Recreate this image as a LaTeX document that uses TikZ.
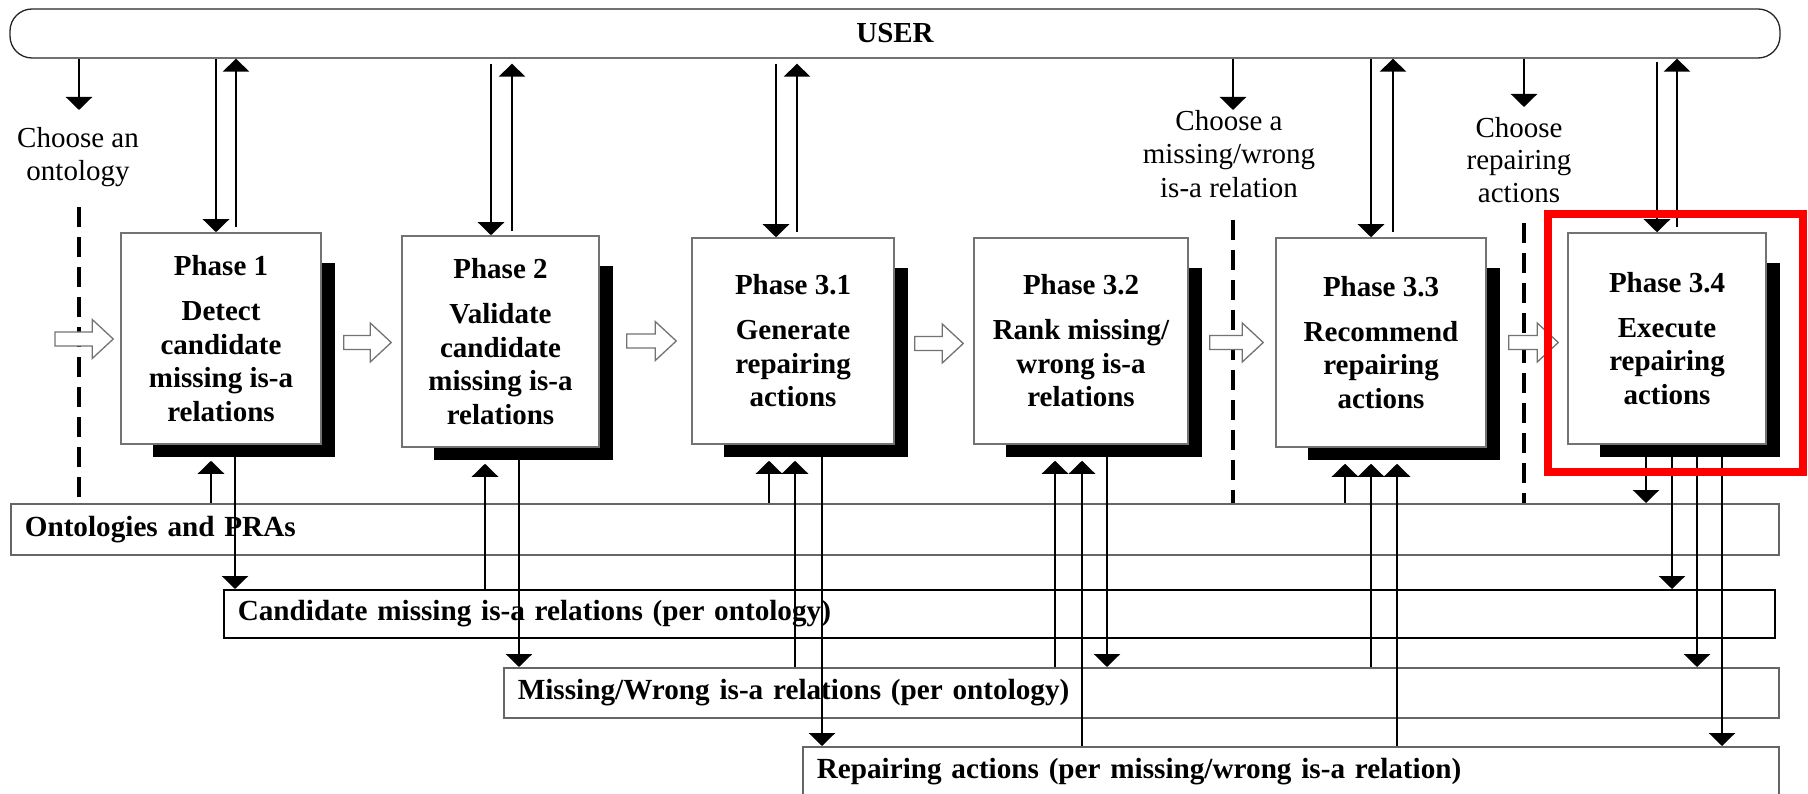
\documentclass[tikz,border=0pt]{standalone}
\usepackage{fontspec}
\setmainfont{Liberation Serif}
\usetikzlibrary{arrows.meta,calc,backgrounds}

% hollow block arrow: #1 tail point (sets the height), #2 tip point
\newcommand\blockarrow[2]{%
  \draw[hollow] let \p1=#1, \p2=#2 in
    (\x1,\y1+7pt) -- (\x2-21pt,\y1+7pt) -- (\x2-21pt,\y1+19.5pt) -- (\x2,\y1)
    -- (\x2-21pt,\y1-19.5pt) -- (\x2-21pt,\y1-7pt) -- (\x1,\y1-7pt) -- cycle;}

\begin{document}
\begin{tikzpicture}[x=1pt,y=-1pt,
  arr/.style={line width=2.6pt,-{Triangle[width=26pt,length=13pt]}},
  userbar/.style={draw=black!85,line width=1.3pt,fill=white,rounded corners=22pt,
    minimum width=1770pt,minimum height=49pt,inner sep=0pt,
    font=\fontsize{29}{33}\selectfont\bfseries},
  phase/.style={draw=black!55,line width=1.5pt,fill=white,inner sep=0pt,align=center,
    font=\fontsize{29}{33.5}\selectfont\bfseries},
  store/.style={draw=black!60,line width=1.6pt,fill=white,inner xsep=14pt,inner ysep=0pt,
    anchor=north west,align=left,font=\fontsize{29.2}{34}\selectfont\bfseries},
  choice/.style={inner sep=0pt,align=center,font=\fontsize{29}{33}\selectfont},
  sep/.style={line width=4pt,dash pattern=on 20pt off 10pt},
  hollow/.style={draw=black!55,line width=1.3pt,fill=white},
  focus/.style={draw=red,line width=8pt}
]
\useasboundingbox (0,0) rectangle (1808,794);
\clip (0,0) rectangle (1808,794);

% the user
\node[userbar] (user) at (895,33.5) {USER};

% phases
\node[phase,minimum width=200pt,minimum height=211pt] (p1) at (221,338.5)
  {Phase 1\\[11.5pt]Detect\\candidate\\missing is-a\\relations};
\node[phase,minimum width=197pt,minimum height=211pt] (p2) at (500.5,341.5)
  {Phase 2\\[11.5pt]Validate\\candidate\\missing is-a\\relations};
\node[phase,minimum width=202pt,minimum height=206pt] (p3) at (793,341)
  {Phase 3.1\\[11.5pt]Generate\\repairing\\actions};
\node[phase,minimum width=214pt,minimum height=206pt] (p4) at (1081,341)
  {Phase 3.2\\[11.5pt]Rank missing/\\wrong is-a\\relations};
\node[phase,minimum width=210pt,minimum height=209pt] (p5) at (1381,342.5)
  {Phase 3.3\\[11.5pt]Recommend\\repairing\\actions};
\node[phase,minimum width=198pt,minimum height=211pt] (p6) at (1667,338.5)
  {Phase 3.4\\[11.5pt]Execute\\repairing\\actions};

% drop shadows behind the phases, and the bottom edge of each shadow
\begin{scope}[on background layer]
  \foreach \n in {p1,p2,p3,p4,p5,p6}
    \fill ($(\n.north west)+(33,31)$) rectangle ($(\n.south east)+(13,12)$);
\end{scope}
\foreach \n in {p1,p2,p3,p4,p5,p6}
  \coordinate (\n bot) at ($(\n.south)+(0,12)$);

% data stores
\node[store,text width=1740pt,minimum height=51pt] (ont) at (10,503)
  {Ontologies and PRAs};
\node[store,draw=black,text width=1523pt,minimum height=48pt] (cand) at (223,589)
  {Candidate missing is-a relations (per ontology)};
\node[store,text width=1247pt,minimum height=50pt] (mw) at (503,667)
  {Missing/Wrong is-a relations (per ontology)};
\node[store,text width=948pt,minimum height=50pt] (rep) at (802,746)
  {Repairing actions (per missing/wrong is-a relation)};

% user choices
\node[choice] (ch1) at (78,157) {Choose an\\ontology};
\node[choice,font=\fontsize{29}{33.5}\selectfont] (ch2) at (1229,154)
  {Choose a\\missing/wrong\\is-a relation};
\node[choice,font=\fontsize{29}{32.5}\selectfont] (ch3) at (1519,160)
  {Choose\\repairing\\actions};
\coordinate (k1) at (79,110);
\coordinate (k2) at (1233,110);
\coordinate (k3) at (1524,107);
\draw[arr] (k1 |- user.south) -- (k1);
\draw[arr] (k2 |- user.south) -- (k2);
\draw[arr] (k3 |- user.south) -- (k3);

% dashed separators
\coordinate (d1) at (79,207);
\coordinate (d2) at (1233,220);
\coordinate (d3) at (1524,223);
\draw[sep] (d1) -- (d1 |- ont.north);
\draw[sep] (d2) -- (d2 |- ont.north);
\draw[sep] (d3) -- (d3 |- ont.north);

% flow between phases
\blockarrow{(55,339)}{($(p1.west)+(-7,0)$)}
\blockarrow{($(p1.east)+(22,4)$)}{($(p2.west)+(-10,0)$)}
\blockarrow{($(p2.east)+(27,-0.5)$)}{($(p3.west)+(-15,0)$)}
\blockarrow{($(p3.east)+(20,2.5)$)}{($(p4.west)+(-10,0)$)}
\blockarrow{($(p4.east)+(21,1.5)$)}{($(p5.west)+(-12,0)$)}
\blockarrow{($(p5.east)+(22,0)$)}{($(p6.west)+(-9,0)$)}

% interaction with the user
\draw[arr] (216,0 |- user.south) -- (216,0 |- p1.north);
\draw[arr,shorten <=5pt] (236,0 |- p1.north) -- (236,0 |- user.south);
\draw[arr,shorten <=5pt] (491,0 |- user.south) -- (491,0 |- p2.north);
\draw[arr,shorten <=4pt,shorten >=5pt] (512,0 |- p2.north) -- (512,0 |- user.south);
\draw[arr,shorten <=5pt] (776,0 |- user.south) -- (776,0 |- p3.north);
\draw[arr,shorten <=5pt,shorten >=5pt] (797,0 |- p3.north) -- (797,0 |- user.south);
\draw[arr] (1371,0 |- user.south) -- (1371,0 |- p5.north);
\draw[arr,shorten <=5pt] (1393,0 |- p5.north) -- (1393,0 |- user.south);
\draw[arr,shorten <=3pt] (1657,0 |- user.south) -- (1657,0 |- p6.north);
\draw[arr,shorten <=5pt] (1677,0 |- p6.north) -- (1677,0 |- user.south);

% reading and writing the data stores
\draw[arr,shorten >=4pt] (211,0 |- ont.north) -- (211,0 |- p1bot);
\draw[arr] (235,0 |- p1bot) -- (235,0 |- cand.north);
\draw[arr,shorten >=4pt] (485,0 |- cand.north) -- (485,0 |- p2bot);
\draw[arr] (519,0 |- p2bot) -- (519,0 |- mw.north);
\draw[arr,shorten >=4pt] (769,0 |- ont.north) -- (769,0 |- p3bot);
\draw[arr,shorten >=4pt] (795,0 |- mw.north) -- (795,0 |- p3bot);
\draw[arr] (822,0 |- p3bot) -- (822,0 |- rep.north);
\draw[arr,shorten >=4pt] (1055,0 |- mw.north) -- (1055,0 |- p4bot);
\draw[arr,shorten >=4pt] (1082,0 |- rep.north) -- (1082,0 |- p4bot);
\draw[arr] (1107,0 |- p4bot) -- (1107,0 |- mw.north);
\draw[arr,shorten >=4pt] (1345,0 |- ont.north) -- (1345,0 |- p5bot);
\draw[arr,shorten >=4pt] (1371,0 |- mw.north) -- (1371,0 |- p5bot);
\draw[arr,shorten >=4pt] (1397,0 |- rep.north) -- (1397,0 |- p5bot);
\draw[arr] (1646,0 |- p6bot) -- (1646,0 |- ont.north);
\draw[arr] (1672,0 |- p6bot) -- (1672,0 |- cand.north);
\draw[arr] (1697,0 |- p6bot) -- (1697,0 |- mw.north);
\draw[arr] (1722,0 |- p6bot) -- (1722,0 |- rep.north);

% highlight around the last phase
\draw[focus] ($(p6.north west)+(-19,-18.5)$) rectangle ($(p6.south east)+(36,27)$);
\end{tikzpicture}
\end{document}
